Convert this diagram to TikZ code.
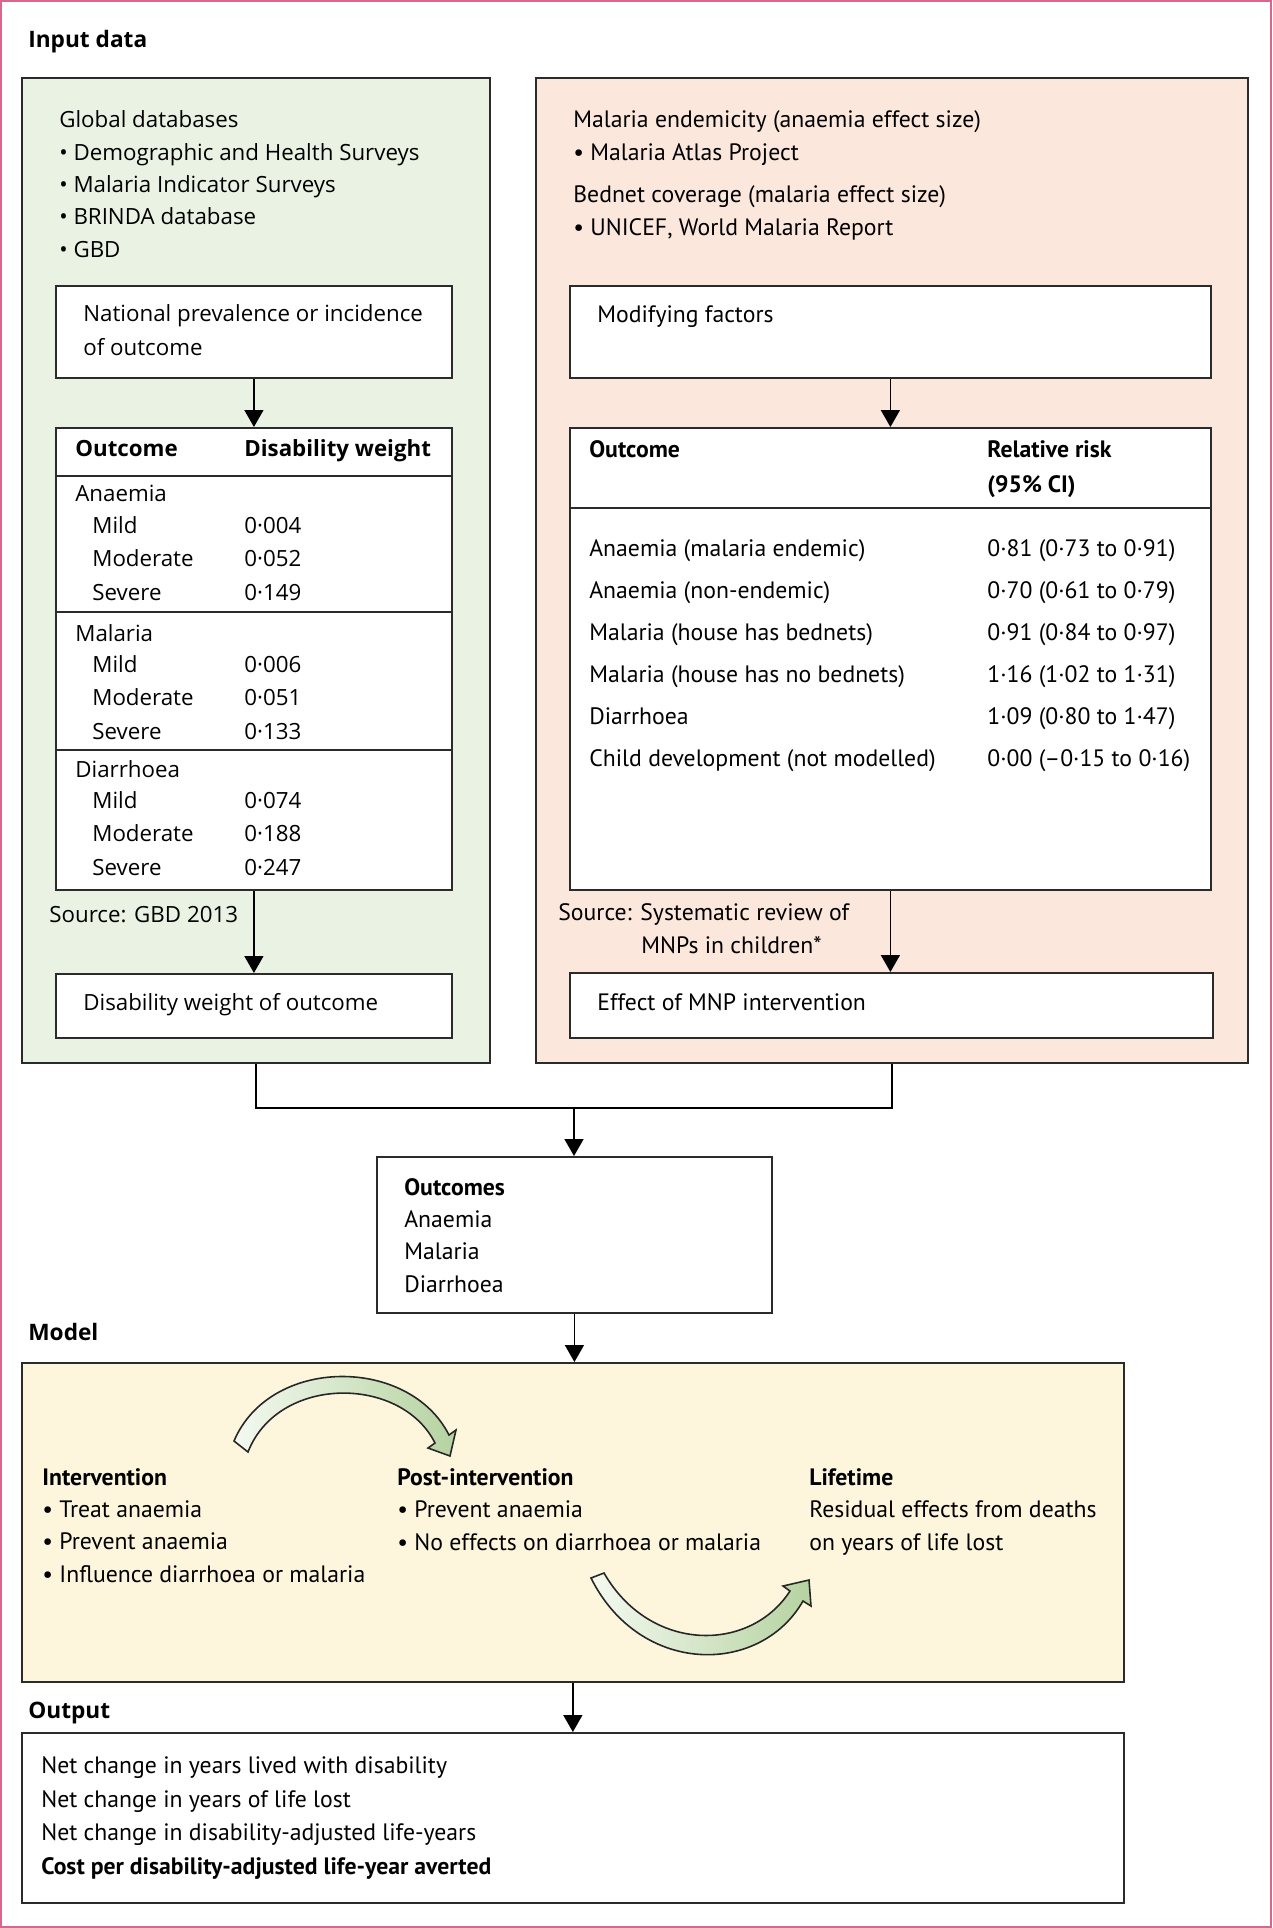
\documentclass[tikz,border=0pt]{standalone}
\usepackage{fontspec}
\setmainfont{PT Sans}
\newfontfamily\dwfont{Open Sans}
\usetikzlibrary{arrows.meta}

\definecolor{framepink}{HTML}{D8668E}
\definecolor{panelgreen}{HTML}{EAF2E4}
\definecolor{panelpeach}{HTML}{FCE7DD}
\definecolor{panelyellow}{HTML}{FDF6DD}
\definecolor{edgegray}{HTML}{2B2B2B}
\definecolor{arrowpale}{HTML}{F4F9F0}
\definecolor{arrowgreen}{HTML}{B5D2A0}

% multi-line nodes sit on the baseline of their last line
\tikzset{
  panel/.style={draw=edgegray, line width=1.1pt, anchor=north west, inner sep=0pt},
  whitebox/.style={panel, fill=white},
  txt/.style={anchor=base west, inner sep=0pt, align=left, font=\fontsize{13.5}{18.4}\selectfont},
  dwtxt/.style={anchor=base west, inner sep=0pt, align=left, font=\dwfont\fontsize{12.7}{18.8}\selectfont},
  rowtxt/.style={txt, font=\fontsize{13.5}{23.9}\selectfont},
  section/.style={dwtxt, font=\dwfont\bfseries\fontsize{12.9}{18.8}\selectfont},
  flow/.style={line width=0.9pt, -{Triangle[length=0.34cm, width=0.38cm]}},
  rule/.style={line width=1.1pt, draw=edgegray},
  curvearrow/.style={draw=black!85, line width=0.9pt, left color=arrowpale, right color=arrowgreen},
}

\begin{document}
\begin{tikzpicture}[x=0.02cm, y=-0.02cm]
    \useasboundingbox (0,0) rectangle (1272,1928);
    \draw[framepink, line width=1.2pt] (1,1) rectangle (1271,1927);

    % panels and boxes
    \node[panel, fill=panelgreen, minimum width=9.36cm, minimum height=19.70cm] (input) at (21,77) {};
    \node[panel, fill=panelpeach, minimum width=14.24cm, minimum height=19.70cm] (factors) at (535,77) {};
    \node[whitebox, minimum width=7.92cm, minimum height=1.84cm] (prev) at (55,285) {};
    \node[whitebox, minimum width=7.92cm, minimum height=9.24cm] (dwtable) at (55,427) {};
    \node[whitebox, minimum width=7.92cm, minimum height=1.28cm] (dwout) at (55,973) {};
    \node[whitebox, minimum width=12.82cm, minimum height=1.84cm] (modif) at (569,285) {};
    \node[whitebox, minimum width=12.82cm, minimum height=9.24cm] (rrtable) at (569,427) {};
    \node[whitebox, minimum width=12.86cm, minimum height=1.30cm] (effect) at (569,972) {};
    \node[whitebox, minimum width=7.90cm, minimum height=3.12cm] (outcomes) at (376,1156) {};
    \node[panel, fill=panelyellow, minimum width=22.04cm, minimum height=6.38cm] (model) at (21,1362) {};
    \node[whitebox, minimum width=22.04cm, minimum height=3.40cm] (output) at (21,1732) {};

    % table rules
    \draw[rule] (dwtable.west |- 0,476) -- (dwtable.east |- 0,476);
    \draw[rule] (dwtable.west |- 0,612) -- (dwtable.east |- 0,612);
    \draw[rule] (dwtable.west |- 0,750) -- (dwtable.east |- 0,750);
    \draw[rule] (rrtable.west |- 0,508) -- (rrtable.east |- 0,508);

    % section labels
    \node[section] (lblinput) at (28,47) {Input data};
    \node[section] (lblmodel) at (28,1340) {Model};
    \node[section] (lbloutput) at (28,1718) {Output};

    % left panel
    \node[dwtxt, font=\dwfont\fontsize{12.7}{18.4}\selectfont] (global) at (59,257)
        {Global databases\\ \textbullet\ Demographic and Health Surveys\\ \textbullet\ Malaria Indicator Surveys\\ \textbullet\ BRINDA database\\ \textbullet\ GBD};
    \node[dwtxt] (prevtxt) at (83,355) {National prevalence or incidence\\of outcome};
    \node[dwtxt, font=\dwfont\bfseries\fontsize{12.7}{18.8}\selectfont] (hdout) at (75,456) {Outcome};
    \node[dwtxt, font=\dwfont\bfseries\fontsize{12.7}{18.8}\selectfont] (hddw) at (244,456) {Disability weight};
    \node[dwtxt] (anaemia) at (75,501) {Anaemia};
    \node[dwtxt] (anlev) at (92,600) {Mild\\Moderate\\Severe};
    \node[dwtxt] (anval) at (244,600) {0·004\\0·052\\0·149};
    \node[dwtxt] (malaria) at (75,641) {Malaria};
    \node[dwtxt] (mallev) at (92,739) {Mild\\Moderate\\Severe};
    \node[dwtxt] (malval) at (244,739) {0·006\\0·051\\0·133};
    \node[dwtxt] (diarr) at (75,777) {Diarrhoea};
    \node[dwtxt] (dilev) at (92,875) {Mild\\Moderate\\Severe};
    \node[dwtxt] (dival) at (244,875) {0·074\\0·188\\0·247};
    \node[dwtxt] (srcgbd) at (49,922) {Source: GBD 2013};
    \node[dwtxt] (dwouttxt) at (83,1010) {Disability weight of outcome};

    % right panel
    \node[txt] (endem) at (573,160) {Malaria endemicity (anaemia effect size)\\ \textbullet\ Malaria Atlas Project};
    \node[txt] (bednet) at (573,235) {Bednet coverage (malaria effect size)\\ \textbullet\ UNICEF, World Malaria Report};
    \node[txt] (modiftxt) at (597,322) {Modifying factors};
    \node[txt, font=\bfseries\fontsize{13.5}{19.9}\selectfont] (hdrrout) at (589,457) {Outcome};
    \node[txt, font=\bfseries\fontsize{13.5}{19.9}\selectfont] (hdrr) at (987,492) {Relative risk\\(95\% CI)};
    \node[rowtxt] (rrrows) at (589,766)
        {Anaemia (malaria endemic)\\Anaemia (non-endemic)\\Malaria (house has bednets)\\Malaria (house has no bednets)\\Diarrhoea\\Child development (not modelled)};
    \node[rowtxt] (rrvals) at (987,766)
        {0·81 (0·73 to 0·91)\\0·70 (0·61 to 0·79)\\0·91 (0·84 to 0·97)\\1·16 (1·02 to 1·31)\\1·09 (0·80 to 1·47)\\0·00 (–0·15 to 0·16)};
    \node[txt] (srcsr) at (558,920) {Source: Systematic review of};
    \node[txt] (srcsr2) at (641,953) {MNPs in children*};
    \node[txt] (effecttxt) at (597,1010) {Effect of MNP intervention};

    % outcomes
    \node[txt] (outtxt) at (404,1292) {\textbf{Outcomes}\\Anaemia\\Malaria\\Diarrhoea};

    % model
    \node[txt] (interv) at (42,1582) {\textbf{Intervention}\\ \textbullet\ Treat anaemia\\ \textbullet\ Prevent anaemia\\ \textbullet\ Influence diarrhoea or malaria};
    \node[txt] (post) at (397,1550) {\textbf{Post-intervention}\\ \textbullet\ Prevent anaemia\\ \textbullet\ No effects on diarrhoea or malaria};
    \node[txt] (life) at (809,1550) {\textbf{Lifetime}\\Residual effects from deaths\\on years of life lost};
    \path[curvearrow] (234,1441) .. controls (270,1356) and (409,1356) .. (449,1435) -- (456,1430) -- (450,1456) -- (428,1448) -- (435,1443)
        .. controls (401,1375) and (278,1375) .. (248,1452) -- cycle;
    \path[curvearrow] (591,1578) .. controls (640,1676) and (760,1676) .. (803,1601) -- (811,1606) -- (809,1580) -- (783,1586) -- (790,1591)
        .. controls (750,1653) and (650,1653) .. (604,1573) -- cycle;

    % output
    \node[txt, font=\fontsize{13.5}{19}\selectfont] (outlist) at (41,1874) {Net change in years lived with disability\\Net change in years of life lost\\Net change in disability-adjusted life-years\\\textbf{Cost per disability-adjusted life-year averted}};

    % connectors
    \draw[flow] (prev.south) -- (dwtable.north);
    \draw[flow] (dwtable.south) -- (dwout.north);
    \draw[flow] (modif.south) -- (rrtable.north);
    \draw[flow] (rrtable.south) -- (rrtable.south |- effect.north);
    \coordinate (merge) at (574,1108);
    \draw[line width=0.9pt] (input.south) |- (merge) -| (factors.south);
    \draw[flow] (merge) -- (merge |- outcomes.north);
    \draw[flow] (outcomes.south) -- (outcomes.south |- model.north);
    \draw[flow] (model.south) -- (output.north);
\end{tikzpicture}
\end{document}
